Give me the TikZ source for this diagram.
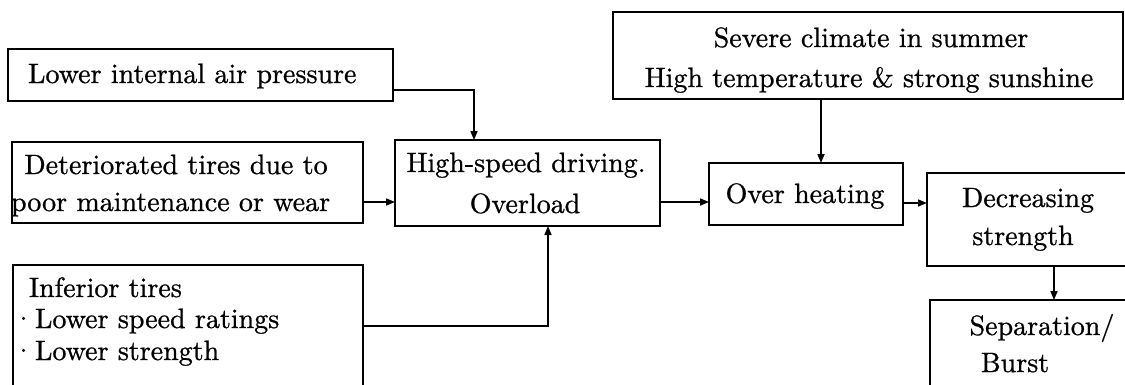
\documentclass[tikz,border=0pt]{standalone}
\usepackage{fontspec}
\setmainfont{lmroman10-regular.otf}[FakeBold=0.8]
\usetikzlibrary{arrows.meta,calc}
\begin{document}
\begin{tikzpicture}[x=1pt,y=-1pt,
  box/.style={draw=black,line width=1.5pt,inner sep=0pt,outer sep=0pt,fill=none},
  txt/.style={inner sep=0pt,outer sep=0pt,font=\fontsize{28}{34}\selectfont},
  conn/.style={draw=black,line width=1.6pt},
  arr/.style={conn,-{Triangle[length=9pt,width=7pt]}}]
\useasboundingbox (0,0) rectangle (1125,384);
\fill[white] (0,0) rectangle (1125,384);
% boxes
\node[box,minimum width=385pt,minimum height=52pt] (lower) at (200.5,75) {};
\node[box,minimum width=351pt,minimum height=81pt] (det) at (187.5,182.5) {};
\node[box,minimum width=265pt,minimum height=86pt] (hs) at (527.5,183) {};
\node[box,minimum width=350pt,minimum height=135pt] (inf) at (188,332.5) {};
\node[box,minimum width=510pt,minimum height=87pt] (sev) at (868,55.5) {};
\node[box,minimum width=194pt,minimum height=62pt] (oh) at (806,194) {};
\node[box,minimum width=213pt,minimum height=93pt] (dec) at (1033.5,219.5) {};
\node[box,minimum width=210pt,minimum height=100pt] (sep) at (1035,350) {};
% texts
\node[txt,anchor=base west] (tlower) at (28,83) {Lower internal air pressure};
\node[txt,anchor=base] (tdet1) at (176,174) {Deteriorated tires due to};
\node[txt,anchor=base west] (tdet2) at (11,211) {poor maintenance or wear};
\node[txt,anchor=base] (ths1) at (526,172) {High-speed driving.};
\node[txt,anchor=base] (ths2) at (525,213) {Overload};
\node[txt,anchor=base west] (tinf1) at (29,297) {Inferior tires};
\node[txt,anchor=base west] (tinf2) at (12,328) {\makebox[23pt][c]{·}Lower speed ratings};
\node[txt,anchor=base west] (tinf3) at (12,360) {\makebox[23pt][c]{·}Lower strength};
\node[txt,anchor=base] (tsev1) at (871,47) {Severe climate in summer};
\node[txt,anchor=base] (tsev2) at (869,87) {High temperature \& strong sunshine};
\node[txt,anchor=base] (toh) at (805,203) {Over heating};
\node[txt,anchor=base] (tdec1) at (1028,207) {Decreasing};
\node[txt,anchor=base] (tdec2) at (1023,245) {strength};
\node[txt,anchor=base] (tsep1) at (1042,335) {Separation/};
\node[txt,anchor=base] (tsep2) at (1015,372) {Burst};
% connector points
\coordinate (c1) at ([yshift=-15pt]lower.east);
\coordinate (c1t) at ([xshift=-53.5pt]hs.north);
\coordinate (c2) at ([yshift=-19.5pt]det.east);
\coordinate (c3) at ([yshift=6.5pt]inf.east);
\coordinate (c3t) at ([xshift=20.5pt]hs.south);
\coordinate (c4) at ([yshift=-19pt]hs.east);
\coordinate (c5) at ([xshift=-47pt]sev.south);
\coordinate (c6) at ([yshift=-9pt]oh.east);
\coordinate (c7) at ([xshift=20.5pt]dec.south);
% connectors
\draw[arr] (c1) -| (c1t);
\draw[arr] (c2) -- (c2 -| hs.west);
\draw[arr] (c3) -| (c3t);
\draw[arr] (c4) -- (c4 -| oh.west);
\draw[arr] (c5) -- (c5 |- oh.north);
\draw[arr] (c6) -- (c6 -| dec.west);
\draw[arr] (c7) -- (c7 |- sep.north);
\end{tikzpicture}
\end{document}
